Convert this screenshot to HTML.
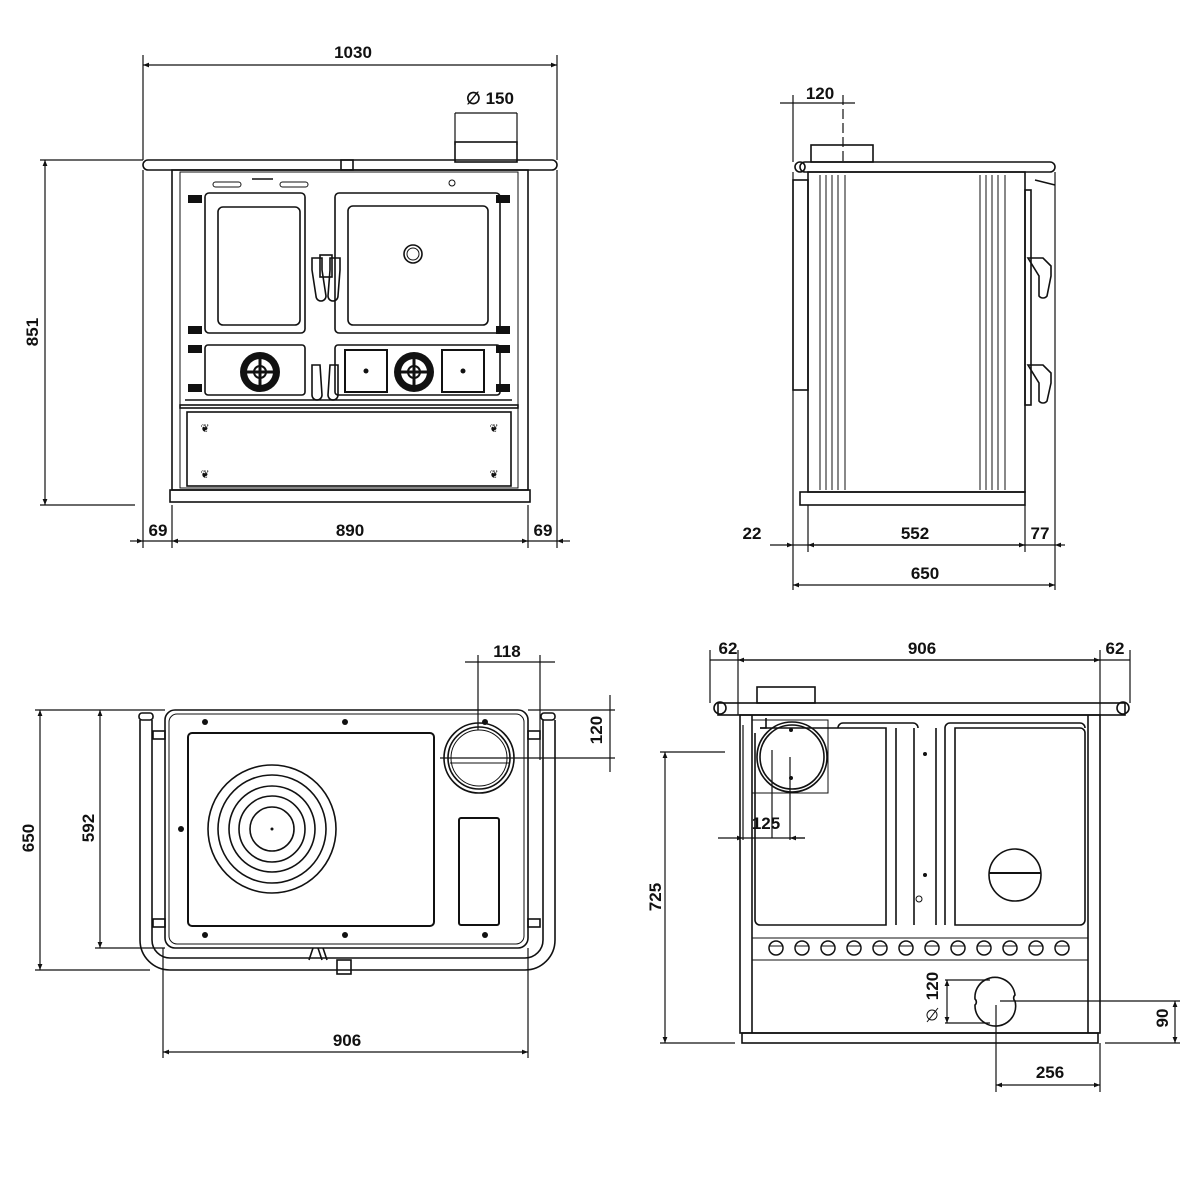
<!DOCTYPE html>
<html><head><meta charset="utf-8"><style>
html,body{margin:0;padding:0;background:#fff}
svg{display:block}
text{font-family:"Liberation Sans",sans-serif;font-weight:bold;font-size:17px;fill:#111;text-anchor:middle}
.l{stroke:#111;stroke-width:1.6;fill:none}
.t{stroke:#111;stroke-width:1;fill:none}
.d{stroke:#111;stroke-width:1.2;fill:none}
.k{fill:#111}
</style></head><body>
<svg width="1200" height="1200" viewBox="0 0 1200 1200" xmlns="http://www.w3.org/2000/svg">
<defs>
<marker id="a" viewBox="0 0 10 10" refX="10" refY="5" markerWidth="10" markerHeight="6" orient="auto-start-reverse" markerUnits="userSpaceOnUse"><path d="M0,1 L10,5 L0,9z" fill="#111"/></marker>
</defs>

<!-- ===== FRONT VIEW ===== -->
<g>
<line class="d" x1="143" y1="55" x2="143" y2="160"/><line class="d" x1="557" y1="55" x2="557" y2="160"/>
<line class="d" x1="143" y1="65" x2="557" y2="65" marker-start="url(#a)" marker-end="url(#a)"/>
<text x="353" y="58">1030</text>
<text x="490" y="104">∅ 150</text>
<line class="d" x1="455" y1="113" x2="517" y2="113"/>
<line class="d" x1="455" y1="113" x2="455" y2="145"/><line class="d" x1="517" y1="113" x2="517" y2="145"/>
<rect class="l" x="455" y="142" width="62" height="20"/>
<rect class="l" x="143" y="160" width="414" height="10" rx="5"/>
<rect class="l" x="341" y="160" width="12" height="10"/>
<rect class="l" x="172" y="170" width="356" height="320"/>
<rect class="t" x="180" y="172" width="338" height="316"/>
<line class="d" x1="40" y1="160" x2="143" y2="160"/><line class="d" x1="40" y1="505" x2="135" y2="505"/>
<line class="d" x1="45" y1="160" x2="45" y2="505" marker-start="url(#a)" marker-end="url(#a)"/>
<text x="38" y="332" transform="rotate(-90 38 332)">851</text>
<rect class="t" x="213" y="182" width="28" height="5" rx="2.5"/><rect class="t" x="280" y="182" width="28" height="5" rx="2.5"/>
<line class="l" x1="252" y1="179" x2="273" y2="179"/>
<circle class="t" cx="452" cy="183" r="3"/>
<rect class="l" x="205" y="193" width="100" height="140" rx="4"/>
<rect class="l" x="218" y="207" width="82" height="118" rx="5"/>
<rect class="l" x="335" y="193" width="165" height="140" rx="4"/>
<rect class="l" x="348" y="206" width="140" height="119" rx="5"/>
<circle class="l" cx="413" cy="254" r="9"/><circle class="t" cx="413" cy="254" r="6"/>
<g class="k">
<rect x="188" y="195" width="14" height="8"/><rect x="496" y="195" width="14" height="8"/>
<rect x="188" y="326" width="14" height="8"/><rect x="496" y="326" width="14" height="8"/>
<rect x="188" y="345" width="14" height="8"/><rect x="496" y="345" width="14" height="8"/>
<rect x="188" y="384" width="14" height="8"/><rect x="496" y="384" width="14" height="8"/>
</g>
<path class="l" d="M312,258 h10 v12 l4,26 a5,5 0 0 1 -10,0 l-4,-26z"/>
<path class="l" d="M330,258 h10 v12 l-2,26 a5,5 0 0 1 -10,0 l2,-26z"/>
<rect class="l" x="320" y="255" width="12" height="22"/>
<rect class="l" x="205" y="345" width="100" height="50" rx="3"/>
<rect class="l" x="335" y="345" width="165" height="50" rx="3"/>
<g>
<circle cx="260" cy="372" r="20" fill="#111"/><circle cx="260" cy="372" r="13" fill="#fff"/>
<circle cx="260" cy="372" r="6" fill="none" stroke="#111" stroke-width="2"/>
<path d="M247,372 h26 M260,359 v26" stroke="#111" stroke-width="3"/>
<circle cx="414" cy="372" r="20" fill="#111"/><circle cx="414" cy="372" r="13" fill="#fff"/>
<circle cx="414" cy="372" r="6" fill="none" stroke="#111" stroke-width="2"/>
<path d="M401,372 h26 M414,359 v26" stroke="#111" stroke-width="3"/>
</g>
<rect x="345" y="350" width="42" height="42" fill="none" stroke="#111" stroke-width="2"/>
<rect x="442" y="350" width="42" height="42" fill="none" stroke="#111" stroke-width="2"/>
<circle class="k" cx="366" cy="371" r="2.5"/><circle class="k" cx="463" cy="371" r="2.5"/>
<path class="l" d="M312,365 h8 l2,30 a5,5 0 0 1 -10,0z"/>
<path class="l" d="M330,365 h8 l0,30 a5,5 0 0 1 -10,0z"/>
<line class="l" x1="185" y1="400" x2="512" y2="400"/>
<rect class="l" x="180" y="405" width="338" height="3"/>
<rect class="l" x="187" y="412" width="324" height="74"/>
<text x="205" y="432" style="font-size:11px;font-weight:normal">❦</text>
<text x="494" y="432" style="font-size:11px;font-weight:normal">❦</text>
<text x="205" y="478" style="font-size:11px;font-weight:normal">❦</text>
<text x="494" y="478" style="font-size:11px;font-weight:normal">❦</text>
<rect class="l" x="170" y="490" width="360" height="12"/>
<line class="d" x1="172" y1="505" x2="172" y2="548"/><line class="d" x1="528" y1="505" x2="528" y2="548"/>
<line class="d" x1="143" y1="170" x2="143" y2="548"/><line class="d" x1="557" y1="170" x2="557" y2="548"/>
<line class="d" x1="130" y1="541" x2="143" y2="541" marker-end="url(#a)"/>
<line class="d" x1="143" y1="541" x2="172" y2="541"/>
<line class="d" x1="172" y1="541" x2="528" y2="541" marker-start="url(#a)" marker-end="url(#a)"/>
<line class="d" x1="528" y1="541" x2="557" y2="541"/>
<line class="d" x1="570" y1="541" x2="557" y2="541" marker-end="url(#a)"/>
<text x="158" y="536">69</text><text x="350" y="536">890</text><text x="543" y="536">69</text>
</g>

<!-- ===== SIDE VIEW ===== -->
<g>
<line class="d" x1="793" y1="95" x2="793" y2="162"/><line class="d" x1="843" y1="95" x2="843" y2="162" stroke-dasharray="10,4"/>
<line class="d" x1="780" y1="103" x2="855" y2="103"/>
<text x="820" y="99">120</text>
<rect class="l" x="811" y="145" width="62" height="17"/>
<rect class="l" x="800" y="162" width="255" height="10" rx="5"/>
<circle class="l" cx="800" cy="167" r="5"/>
<rect class="l" x="808" y="172" width="217" height="320"/>
<rect class="l" x="793" y="180" width="15" height="210"/>
<line class="t" x1="820" y1="175" x2="820" y2="490"/><line class="t" x1="826" y1="175" x2="826" y2="490"/>
<line class="t" x1="832" y1="175" x2="832" y2="490"/><line class="t" x1="838" y1="175" x2="838" y2="490"/><line class="t" x1="845" y1="175" x2="845" y2="490"/>
<line class="t" x1="980" y1="175" x2="980" y2="490"/><line class="t" x1="986" y1="175" x2="986" y2="490"/>
<line class="t" x1="992" y1="175" x2="992" y2="490"/><line class="t" x1="998" y1="175" x2="998" y2="490"/><line class="t" x1="1005" y1="175" x2="1005" y2="490"/>
<rect class="l" x="1025" y="190" width="6" height="215"/>
<path class="l" d="M1028,258 h15 l8,8 v10 l-4,20 a5,5 0 0 1 -8,0 l0,-20z"/>
<path class="l" d="M1028,365 h15 l8,8 v10 l-4,18 a5,5 0 0 1 -8,0 l0,-18z"/>
<line class="l" x1="1035" y1="180" x2="1055" y2="185"/>
<rect class="l" x="800" y="492" width="225" height="13"/>
<line class="d" x1="793" y1="172" x2="793" y2="590"/><line class="d" x1="808" y1="505" x2="808" y2="552"/>
<line class="d" x1="1025" y1="505" x2="1025" y2="552"/><line class="d" x1="1055" y1="172" x2="1055" y2="590"/>
<line class="d" x1="770" y1="545" x2="793" y2="545" marker-end="url(#a)"/>
<line class="d" x1="793" y1="545" x2="1055" y2="545"/>
<line class="d" x1="808" y1="545" x2="1025" y2="545" marker-start="url(#a)" marker-end="url(#a)"/>
<line class="d" x1="1065" y1="545" x2="1055" y2="545" marker-end="url(#a)"/>
<text x="752" y="539">22</text><text x="915" y="539">552</text><text x="1040" y="539">77</text>
<line class="d" x1="793" y1="585" x2="1055" y2="585" marker-start="url(#a)" marker-end="url(#a)"/>
<text x="925" y="579">650</text>
</g>

<!-- ===== TOP VIEW ===== -->
<g>
<rect class="l" x="165" y="710" width="363" height="238" rx="10"/>
<rect class="t" x="169" y="714" width="355" height="230" rx="8"/>
<rect x="188" y="733" width="246" height="193" rx="4" fill="none" stroke="#111" stroke-width="2"/>
<circle class="l" cx="272" cy="829" r="64"/><circle class="l" cx="272" cy="829" r="54"/>
<circle class="l" cx="272" cy="829" r="43"/><circle class="l" cx="272" cy="829" r="33"/>
<circle class="l" cx="272" cy="829" r="22"/><circle class="k" cx="272" cy="829" r="1.5"/>
<circle class="l" cx="479" cy="758" r="35"/><circle class="l" cx="479" cy="758" r="31"/><circle class="t" cx="479" cy="758" r="28"/>
<line class="t" x1="450" y1="763" x2="510" y2="763"/>
<rect x="459" y="818" width="40" height="107" rx="2" fill="none" stroke="#111" stroke-width="2"/>
<g class="k">
<circle cx="205" cy="722" r="3"/><circle cx="345" cy="722" r="3"/><circle cx="205" cy="935" r="3"/><circle cx="345" cy="935" r="3"/>
<circle cx="485" cy="935" r="3"/><circle cx="181" cy="829" r="3"/><circle cx="485" cy="722" r="3"/>
</g>
<path class="l" d="M140,720 V940 a30,30 0 0 0 30,30 H525 a30,30 0 0 0 30,-30 V720"/>
<path class="l" d="M152,720 V940 a18,18 0 0 0 18,18 H525 a18,18 0 0 0 18,-18 V720"/>
<rect class="l" x="139" y="713" width="14" height="7" rx="3"/><rect class="l" x="541" y="713" width="14" height="7" rx="3"/>
<rect class="l" x="153" y="731" width="12" height="8"/><rect class="l" x="528" y="731" width="12" height="8"/>
<rect class="l" x="153" y="919" width="12" height="8"/><rect class="l" x="528" y="919" width="12" height="8"/>
<rect class="l" x="337" y="960" width="14" height="14"/>
<path class="l" d="M313,948 l-4,12 M318,948 l4,12 M323,948 l4,12"/>
<line class="d" x1="478" y1="655" x2="478" y2="730"/><line class="d" x1="540" y1="655" x2="540" y2="760"/>
<line class="d" x1="465" y1="662" x2="555" y2="662"/>
<text x="507" y="657">118</text>
<line class="d" x1="528" y1="710" x2="615" y2="710"/><line class="d" x1="440" y1="758" x2="615" y2="758"/>
<line class="d" x1="610" y1="695" x2="610" y2="772"/>
<text x="602" y="730" transform="rotate(-90 602 730)">120</text>
<line class="d" x1="35" y1="710" x2="165" y2="710"/><line class="d" x1="35" y1="970" x2="150" y2="970"/>
<line class="d" x1="40" y1="710" x2="40" y2="970" marker-start="url(#a)" marker-end="url(#a)"/>
<text x="34" y="838" transform="rotate(-90 34 838)">650</text>
<line class="d" x1="95" y1="948" x2="165" y2="948"/>
<line class="d" x1="100" y1="710" x2="100" y2="948" marker-start="url(#a)" marker-end="url(#a)"/>
<text x="94" y="828" transform="rotate(-90 94 828)">592</text>
<line class="d" x1="163" y1="948" x2="163" y2="1058"/><line class="d" x1="528" y1="948" x2="528" y2="1058"/>
<line class="d" x1="163" y1="1052" x2="528" y2="1052" marker-start="url(#a)" marker-end="url(#a)"/>
<text x="347" y="1046">906</text>
</g>

<!-- ===== BACK VIEW ===== -->
<g>
<rect class="l" x="757" y="687" width="58" height="16"/>
<rect class="l" x="718" y="703" width="407" height="12"/>
<circle class="l" cx="720" cy="708" r="6"/><circle class="l" cx="1123" cy="708" r="6"/>
<rect class="l" x="740" y="715" width="360" height="318"/>
<line class="l" x1="752" y1="715" x2="752" y2="1033"/><line class="l" x1="1088" y1="715" x2="1088" y2="1033"/>
<path class="l" d="M760,728 h6 v-10 M838,728 a5,5 0 0 1 5,-5 h70 a5,5 0 0 1 5,5"/>
<path class="l" d="M945,728 a5,5 0 0 1 5,-5 h130 a5,5 0 0 1 5,5"/>
<path class="l" d="M760,728 H886 V925 H760 a5,5 0 0 1 -5,-5 V733"/>
<path class="l" d="M955,728 H1080 a5,5 0 0 1 5,5 V920 a5,5 0 0 1 -5,5 H955z"/>
<line class="l" x1="896" y1="728" x2="896" y2="925"/><line class="l" x1="914" y1="728" x2="914" y2="925"/>
<line class="l" x1="936" y1="728" x2="936" y2="925"/><line class="l" x1="945" y1="728" x2="945" y2="925"/>
<rect class="t" x="752" y="720" width="76" height="73"/>
<circle class="l" cx="792" cy="757" r="35"/><circle class="l" cx="792" cy="757" r="32"/>
<circle class="k" cx="791" cy="730" r="2"/><circle class="k" cx="791" cy="778" r="2"/>
<circle class="k" cx="925" cy="754" r="2"/><circle class="k" cx="925" cy="875" r="2"/><circle class="t" cx="919" cy="899" r="3"/>
<circle class="l" cx="1015" cy="875" r="26"/><line x1="989" y1="873" x2="1041" y2="873" stroke="#111" stroke-width="2"/>
<line class="t" x1="752" y1="938" x2="1088" y2="938"/>
<g fill="none" stroke="#111" stroke-width="1.5">
<circle cx="776" cy="948" r="7"/><circle cx="802" cy="948" r="7"/><circle cx="828" cy="948" r="7"/><circle cx="854" cy="948" r="7"/>
<circle cx="880" cy="948" r="7"/><circle cx="906" cy="948" r="7"/><circle cx="932" cy="948" r="7"/><circle cx="958" cy="948" r="7"/>
<circle cx="984" cy="948" r="7"/><circle cx="1010" cy="948" r="7"/><circle cx="1036" cy="948" r="7"/><circle cx="1062" cy="948" r="7"/>
</g>
<g stroke="#111" stroke-width="1"><line x1="770" y1="946" x2="782" y2="946"/><line x1="796" y1="946" x2="808" y2="946"/><line x1="822" y1="946" x2="834" y2="946"/><line x1="848" y1="946" x2="860" y2="946"/><line x1="874" y1="946" x2="886" y2="946"/><line x1="900" y1="946" x2="912" y2="946"/><line x1="926" y1="946" x2="938" y2="946"/><line x1="952" y1="946" x2="964" y2="946"/><line x1="978" y1="946" x2="990" y2="946"/><line x1="1004" y1="946" x2="1016" y2="946"/><line x1="1030" y1="946" x2="1042" y2="946"/><line x1="1056" y1="946" x2="1068" y2="946"/></g>
<line class="t" x1="752" y1="960" x2="1088" y2="960"/>
<path class="l" d="M985,980 a20,20 0 0 1 20,0 a20,20 0 0 1 10,15 a4,4 0 0 0 0,6 a20,20 0 0 1 -30,22 a20,20 0 0 1 -10,-18 a4,4 0 0 0 0,-6 a20,20 0 0 1 10,-19z"/>
<rect class="l" x="742" y="1033" width="356" height="10"/>
<line class="d" x1="710" y1="650" x2="710" y2="703"/><line class="d" x1="738" y1="650" x2="738" y2="715"/>
<line class="d" x1="1100" y1="650" x2="1100" y2="715"/><line class="d" x1="1130" y1="650" x2="1130" y2="703"/>
<line class="d" x1="710" y1="660" x2="1130" y2="660"/>
<line class="d" x1="738" y1="660" x2="1100" y2="660" marker-start="url(#a)" marker-end="url(#a)"/>
<text x="728" y="654">62</text><text x="922" y="654">906</text><text x="1115" y="654">62</text>
<line class="d" x1="743" y1="725" x2="743" y2="840"/><line class="d" x1="772" y1="750" x2="772" y2="838"/>
<line class="d" x1="718" y1="838" x2="743" y2="838" marker-end="url(#a)"/>
<line class="d" x1="743" y1="838" x2="805" y2="838"/>
<line class="d" x1="805" y1="838" x2="790" y2="838" marker-end="url(#a)"/>
<line class="d" x1="790" y1="757" x2="790" y2="840"/>
<text x="766" y="829">125</text>
<line class="d" x1="660" y1="752" x2="725" y2="752"/><line class="d" x1="660" y1="1043" x2="735" y2="1043"/>
<line class="d" x1="665" y1="752" x2="665" y2="1043" marker-start="url(#a)" marker-end="url(#a)"/>
<text x="661" y="897" transform="rotate(-90 661 897)">725</text>
<line class="d" x1="945" y1="980" x2="990" y2="980"/><line class="d" x1="945" y1="1023" x2="990" y2="1023"/>
<line class="d" x1="947" y1="980" x2="947" y2="1023" marker-start="url(#a)" marker-end="url(#a)"/>
<text x="938" y="986" transform="rotate(-90 938 986)">120</text>
<circle class="t" cx="932" cy="1015" r="5"/><line class="t" x1="927" y1="1022" x2="938" y2="1008"/>
<line class="d" x1="1000" y1="1001" x2="1180" y2="1001"/><line class="d" x1="1105" y1="1043" x2="1180" y2="1043"/>
<line class="d" x1="1175" y1="1001" x2="1175" y2="1043" marker-start="url(#a)" marker-end="url(#a)"/>
<text x="1168" y="1018" transform="rotate(-90 1168 1018)">90</text>
<line class="d" x1="996" y1="1005" x2="996" y2="1092"/><line class="d" x1="1100" y1="1043" x2="1100" y2="1092"/>
<line class="d" x1="996" y1="1085" x2="1100" y2="1085" marker-start="url(#a)" marker-end="url(#a)"/>
<text x="1050" y="1078">256</text>
</g>
</svg>
</body></html>
